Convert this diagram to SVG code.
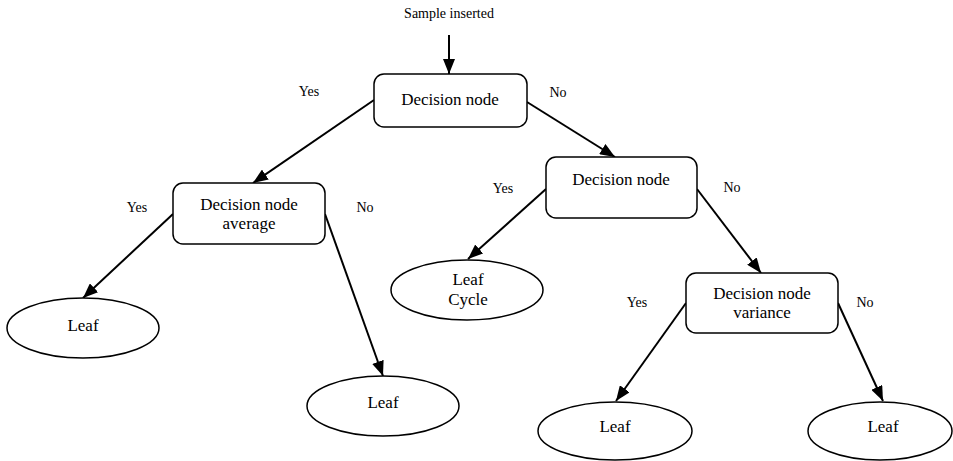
<svg xmlns="http://www.w3.org/2000/svg" width="953" height="461" viewBox="0 0 953 461">
<defs>
<marker id="ah" markerUnits="userSpaceOnUse" markerWidth="16" markerHeight="12" viewBox="0 0 16 12" refX="15" refY="6" orient="auto">
<path d="M0,0 L15,6 L0,12 Z" fill="#000"/>
</marker>
</defs>
<style>
.box{fill:#fff;stroke:#000;stroke-width:1.5}
text{font-family:'Liberation Serif','Times New Roman',Times,serif;fill:#000;text-anchor:middle}
.t{font-size:17px}
.l{font-size:14px}
.c line{stroke:#000;stroke-width:2;marker-end:url(#ah)}
</style>
<rect width="953" height="461" fill="#fff"/>
<g id="connectors" class="c">
<line x1="449" y1="35" x2="449" y2="74"/>
<line x1="374" y1="100" x2="253" y2="183"/>
<line x1="527" y1="102" x2="615" y2="157"/>
<line x1="173" y1="214" x2="83" y2="298"/>
<line x1="325" y1="214" x2="383" y2="376"/>
<line x1="546" y1="189" x2="468" y2="259"/>
<line x1="697" y1="189" x2="761" y2="273"/>
<line x1="686" y1="303" x2="616" y2="401"/>
<line x1="838" y1="303" x2="883" y2="401"/>
</g>
<g id="labels">
<text class="l" x="449" y="18" font-family="Liberation Serif, serif">Sample inserted</text>
<text class="l" x="309" y="96">Yes</text>
<text class="l" x="558" y="97">No</text>
<text class="l" x="137" y="212">Yes</text>
<text class="l" x="365" y="212">No</text>
<text class="l" x="503" y="193">Yes</text>
<text class="l" x="732" y="192">No</text>
<text class="l" x="637" y="307">Yes</text>
<text class="l" x="865" y="307">No</text>
</g>
<g id="root">
<rect class="box" x="374" y="74" width="153" height="53" rx="10"/>
<text class="t" x="450" y="105">Decision node</text>
</g>
<g id="avg">
<rect class="box" x="173" y="183" width="152" height="61" rx="10"/>
<text class="t" x="249" y="210">Decision node</text>
<text class="t" x="249" y="229">average</text>
</g>
<g id="right">
<rect class="box" x="546" y="157" width="151" height="61" rx="10"/>
<text class="t" x="621" y="185">Decision node</text>
</g>
<g id="variance">
<rect class="box" x="686" y="273" width="152" height="60" rx="10"/>
<text class="t" x="762" y="299">Decision node</text>
<text class="t" x="762" y="318">variance</text>
</g>
<g id="leaf1">
<ellipse class="box" cx="83" cy="328" rx="76" ry="30"/>
<text class="t" x="83" y="331">Leaf</text>
</g>
<g id="leaf2">
<ellipse class="box" cx="383" cy="406" rx="76" ry="30"/>
<text class="t" x="383" y="408">Leaf</text>
</g>
<g id="leafcycle">
<ellipse class="box" cx="467" cy="290" rx="76" ry="30"/>
<text class="t" x="468" y="285">Leaf</text>
<text class="t" x="468" y="305">Cycle</text>
</g>
<g id="leaf3">
<ellipse class="box" cx="615" cy="431" rx="77" ry="29"/>
<text class="t" x="615" y="432">Leaf</text>
</g>
<g id="leaf4">
<ellipse class="box" cx="880" cy="431" rx="72" ry="29"/>
<text class="t" x="883" y="432">Leaf</text>
</g>
</svg>
